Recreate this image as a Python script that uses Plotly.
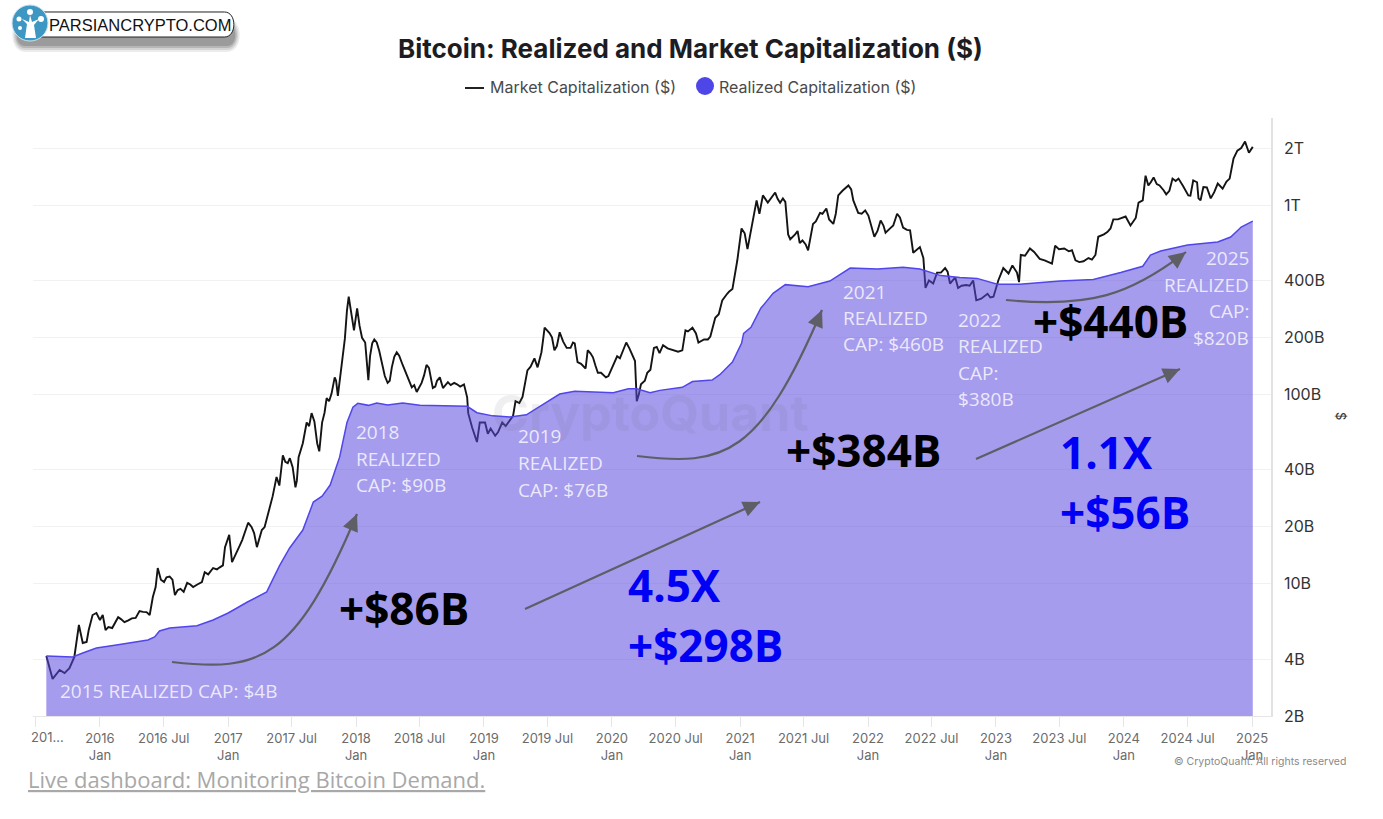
import math
import plotly.graph_objects as go

# Market capitalization ($B)
mktcap_dates = [
    "2015-08-01", "2015-08-19", "2015-09-08", "2015-09-22", "2015-10-06", "2015-10-20", "2015-11-02", "2015-11-13",
    "2015-11-24", "2015-11-30", "2015-12-11", "2015-12-22",
    "2016-01-01", "2016-01-09", "2016-01-17", "2016-02-05", "2016-02-22", "2016-03-11", "2016-04-01", "2016-04-23",
    "2016-05-13", "2016-05-22", "2016-05-31", "2016-06-08", "2016-06-14", "2016-06-23", "2016-07-09", "2016-07-26",
    "2016-08-02", "2016-08-10", "2016-08-27", "2016-09-06", "2016-09-23", "2016-10-18", "2016-10-26", "2016-11-19",
    "2016-12-17", "2016-12-23",
    "2017-01-04", "2017-01-12", "2017-01-26", "2017-02-10", "2017-02-27", "2017-03-09", "2017-03-24", "2017-04-07",
    "2017-04-15", "2017-04-30", "2017-05-19", "2017-06-06", "2017-06-20", "2017-07-04", "2017-07-12", "2017-07-21",
    "2017-08-02", "2017-08-13", "2017-08-27", "2017-09-12", "2017-09-26", "2017-10-09", "2017-10-23", "2017-11-01",
    "2017-11-10", "2017-11-21", "2017-11-30", "2017-12-06", "2017-12-11", "2017-12-26",
    "2018-01-04", "2018-01-18", "2018-01-27", "2018-02-05", "2018-02-16", "2018-03-01", "2018-03-14", "2018-04-01",
    "2018-04-13", "2018-04-27", "2018-05-14", "2018-06-09", "2018-06-23", "2018-07-07", "2018-07-21", "2018-08-08",
    "2018-08-28", "2018-09-06", "2018-09-20", "2018-10-16", "2018-11-05", "2018-11-14", "2018-11-17", "2018-11-28",
    "2018-12-12", "2018-12-20",
    "2019-01-04", "2019-02-02", "2019-02-22", "2019-03-16", "2019-03-25", "2019-04-01", "2019-04-21", "2019-05-05",
    "2019-05-25", "2019-06-03", "2019-06-14", "2019-06-23", "2019-07-07", "2019-07-21", "2019-08-05", "2019-08-25",
    "2019-09-17", "2019-09-25", "2019-10-18", "2019-10-24", "2019-11-08", "2019-11-22", "2019-12-15",
    "2020-01-02", "2020-01-16", "2020-02-11", "2020-03-01", "2020-03-12", "2020-03-24", "2020-04-11", "2020-04-30",
    "2020-05-26", "2020-06-24", "2020-07-20", "2020-07-29", "2020-08-18", "2020-09-04", "2020-10-08", "2020-10-22",
    "2020-11-11", "2020-12-10", "2020-12-24",
    "2021-01-05", "2021-01-22", "2021-02-06", "2021-02-17", "2021-02-25", "2021-03-07", "2021-03-21", "2021-04-11",
    "2021-04-25", "2021-05-03", "2021-05-18", "2021-06-07", "2021-06-20", "2021-07-14", "2021-07-28", "2021-08-17",
    "2021-09-04", "2021-09-24", "2021-10-08", "2021-11-06", "2021-11-20", "2021-12-04", "2021-12-24",
    "2022-01-08", "2022-01-19", "2022-02-06", "2022-02-20", "2022-03-05", "2022-03-25", "2022-04-11", "2022-05-01",
    "2022-05-10", "2022-05-29", "2022-06-08", "2022-06-14", "2022-07-06", "2022-07-17", "2022-08-09", "2022-08-23",
    "2022-09-07", "2022-09-15", "2022-10-28", "2022-11-06", "2022-12-08", "2022-12-25",
    "2023-01-08", "2023-01-22", "2023-02-06", "2023-02-17", "2023-03-02", "2023-03-08", "2023-03-13", "2023-04-08",
    "2023-05-06", "2023-06-10", "2023-06-19", "2023-08-06", "2023-08-16", "2023-09-08", "2023-10-12", "2023-10-20",
    "2023-11-24", "2023-12-02",
    "2024-01-06", "2024-01-20", "2024-02-04", "2024-02-12", "2024-02-24", "2024-03-03", "2024-03-11", "2024-03-26",
    "2024-04-24", "2024-05-19", "2024-06-05", "2024-07-03", "2024-07-17", "2024-08-01", "2024-08-15", "2024-09-05",
    "2024-09-25", "2024-10-09", "2024-10-29", "2024-11-09", "2024-11-20", "2024-12-12", "2024-12-23", "2025-01-03",
]
mktcap_values = [
    4.15, 3.14, 3.5, 3.37, 3.58, 4.1, 6.05, 4.86,
    4.92, 5.69, 6.83, 7.0,
    6.43, 6.83, 5.69, 5.83, 6.65, 6.26, 6.56, 7.17,
    7.08, 6.83, 8.5, 9.6, 12.1, 10.5, 10.8, 10.5,
    8.7, 9.26, 9.05, 10.1, 9.6, 10.2, 11.5, 12.1,
    12.5, 15.6,
    18.1, 13.0, 14.7, 17, 21, 19.9, 15.6, 19.2,
    19.9, 25.4, 36.6, 47.7, 43.3, 41.3, 32.3, 46.6,
    55.2, 71, 79.6, 55.2, 71, 95.5, 101, 123,
    98.3, 139, 197, 278, 328, 218,
    285, 199, 188, 119, 186, 188, 152, 115,
    139, 167, 143, 109, 103, 115, 143, 108,
    123, 108, 116, 113, 113, 96.5, 79.6, 67,
    56, 71,
    71, 60.5, 71, 73, 77, 92, 97, 134,
    155, 139, 167, 225, 211, 171, 213, 176,
    186, 148, 137, 171, 157, 130, 123,
    139, 159, 188, 157, 92, 113, 130, 176,
    182, 171, 171, 218, 225, 188, 202, 254,
    314, 360, 511,
    753, 585, 830, 1058, 900, 1125, 1030, 1165,
    1030, 1085, 700, 700, 630, 577, 795, 910,
    960, 795, 1125, 1270, 1058, 910, 937,
    805, 680, 830, 715, 753, 900, 760, 735,
    560, 600, 525, 365, 385, 440, 465, 385,
    415, 365, 400, 314, 340, 328,
    401, 465, 435, 480, 440, 392, 545, 590,
    520, 490, 610, 577, 511, 505, 545, 680,
    753, 840,
    870, 780, 855, 1030, 1058, 1430, 1270, 1400,
    1195, 1380, 1380, 1125, 1349, 1085, 1245, 1085,
    1300, 1220, 1380, 1760, 1940, 2165, 1890, 2030,
]

# smaller wiggles between the main turning points
wiggle_dates = [
    "2016-01-25", "2016-02-14", "2016-03-01", "2016-03-22", "2016-04-12", "2016-05-03", "2016-07-02", "2016-07-18",
    "2016-08-18", "2016-09-15", "2016-10-05", "2016-11-05", "2016-11-30", "2016-12-08",
    "2017-01-19", "2017-02-03", "2017-03-16", "2017-05-08", "2017-05-27", "2017-06-13", "2017-06-26", "2017-07-16",
    "2017-08-07", "2017-08-20", "2017-09-04", "2017-09-18", "2017-10-03", "2017-10-16", "2017-11-05",
    "2018-01-11", "2018-02-10", "2018-02-22", "2018-03-08", "2018-03-24", "2018-04-07", "2018-04-20", "2018-05-04",
    "2018-05-24", "2018-06-16", "2018-07-14", "2018-07-28", "2018-08-15", "2018-08-20", "2018-09-13", "2018-09-28",
    "2018-10-08", "2018-10-25",
    "2019-01-12", "2019-01-20", "2019-02-10", "2019-03-04", "2019-04-12", "2019-05-14", "2019-06-08", "2019-06-18",
    "2019-07-14", "2019-07-28", "2019-08-15", "2019-09-05", "2019-09-12", "2019-10-05", "2019-11-01", "2019-11-15",
    "2019-12-01", "2019-12-22",
    "2020-01-09", "2020-01-24", "2020-02-02", "2020-02-20", "2020-03-07", "2020-03-18", "2020-04-04", "2020-04-20",
    "2020-05-08", "2020-05-16", "2020-06-08", "2020-07-08", "2020-08-05", "2020-08-28", "2020-09-20", "2020-10-01",
    "2020-11-01", "2020-11-25", "2020-12-01", "2020-12-17",
    "2021-01-14", "2021-04-02", "2021-04-18", "2021-05-10", "2021-05-24", "2021-06-14", "2021-06-28", "2021-07-07",
    "2021-08-05", "2021-08-24", "2021-09-12", "2021-10-01", "2021-10-20", "2021-11-14", "2021-12-14",
    "2022-01-02", "2022-01-28", "2022-02-14", "2022-03-14", "2022-04-02", "2022-04-22", "2022-06-01", "2022-06-24",
    "2022-07-28", "2022-08-16", "2022-09-25", "2022-10-08", "2022-10-18", "2022-11-20", "2022-12-16",
    "2023-03-25", "2023-04-20", "2023-05-20", "2023-06-30", "2023-07-15", "2023-07-28", "2023-08-27", "2023-09-22",
    "2023-10-02", "2023-11-05", "2023-11-15", "2023-12-15", "2023-12-25",
    "2024-03-18", "2024-04-04", "2024-04-12", "2024-05-01", "2024-05-10", "2024-05-28", "2024-06-18", "2024-07-09",
    "2024-07-28", "2024-08-07", "2024-08-25", "2024-09-15", "2024-10-20", "2024-12-01", "2024-12-17",
]
wiggle_values = [
    5.9, 6.3, 6.5, 6.4, 6.6, 7.1, 10.2, 10.9,
    9.4, 9.9, 9.9, 11.2, 11.9, 12.2,
    13.8, 15.9, 18.5, 29, 33, 44, 46, 35,
    62, 68, 72, 50, 80, 92, 118,
    230, 160, 195, 170, 125, 118, 158, 160,
    128, 112, 126, 138, 110, 118, 112, 112,
    115, 110,
    62, 66, 63, 68, 90, 140, 150, 190,
    200, 180, 190, 176, 188, 145, 165, 142,
    130, 125,
    148, 155, 172, 175, 150, 100, 118, 135,
    178, 165, 175, 168, 215, 210, 195, 195,
    265, 340, 350, 420,
    710, 1100, 1080, 1040, 660, 730, 650, 620,
    820, 900, 840, 900, 1190, 1210, 900,
    880, 730, 780, 780, 860, 740, 580, 400,
    440, 445, 375, 378, 375, 320, 325,
    540, 565, 510, 585, 590, 570, 500, 525,
    515, 700, 720, 840, 850,
    1320, 1290, 1270, 1140, 1190, 1340, 1260, 1120,
    1320, 1060, 1240, 1170, 1330, 2000, 2040,
]

# Realized capitalization ($B)
realized_dates = [
    "2015-08-01", "2015-10-15", "2015-11-13", "2015-12-22", "2016-02-17", "2016-05-17", "2016-06-05", "2016-06-19",
    "2016-07-18", "2016-10-04", "2016-11-19", "2017-01-01", "2017-02-25", "2017-04-21", "2017-05-08", "2017-05-28",
    "2017-06-25", "2017-08-02", "2017-09-01", "2017-09-26", "2017-10-19", "2017-11-15", "2017-12-06", "2017-12-23",
    "2018-01-06", "2018-02-05", "2018-03-01", "2018-04-01", "2018-05-14", "2018-07-02", "2018-11-14", "2018-12-12",
    "2019-01-26", "2019-03-16", "2019-05-02", "2019-06-28", "2019-08-05", "2019-09-17", "2019-11-29", "2020-01-05",
    "2020-02-17", "2020-03-12", "2020-04-19", "2020-05-17", "2020-07-20", "2020-08-18", "2020-10-13", "2020-11-04",
    "2020-12-10", "2021-01-05", "2021-01-11", "2021-02-01", "2021-03-01", "2021-04-05", "2021-05-10", "2021-07-14",
    "2021-09-14", "2021-11-11", "2022-01-28", "2022-04-11", "2022-05-29", "2022-07-28", "2022-09-20", "2022-11-08",
    "2023-01-05", "2023-03-10", "2023-07-03", "2023-10-06", "2023-12-23", "2024-02-24", "2024-03-17", "2024-04-15",
    "2024-07-01", "2024-09-25", "2024-11-01", "2024-12-01", "2025-01-03",
]
realized_values = [
    4.15, 4.1, 4.3, 4.57, 4.74, 5.04, 5.23, 5.63,
    5.83, 6.0, 6.43, 7.0, 8.0, 9.05, 10.5, 12.5,
    15.4, 19.2, 27.0, 29, 33.2, 46.6, 71, 85.5,
    89.7, 87.5, 90, 88, 90, 87.5, 86.5, 80,
    77, 76, 78, 90.6, 100.4, 104, 103, 102,
    107, 107, 102, 105, 109, 117, 119, 127,
    148, 186, 210, 226, 285, 342, 380, 370,
    397, 465, 460, 470, 460, 424, 415, 410,
    382, 382, 397, 405, 440, 475, 545, 572,
    615, 638, 678, 766, 822,
]

x_tick_dates = ["2015-07-01", "2016-01-01", "2016-07-01", "2017-01-01", "2017-07-01", "2018-01-01", "2018-07-01",
                "2019-01-01", "2019-07-01", "2020-01-01", "2020-07-01", "2021-01-01", "2021-07-01", "2022-01-01",
                "2022-07-01", "2023-01-01", "2023-07-01", "2024-01-01", "2024-07-01", "2025-01-01"]
x_tick_labels = ["", "2016<br>Jan", "2016 Jul", "2017<br>Jan", "2017 Jul", "2018<br>Jan", "2018 Jul",
                 "2019<br>Jan", "2019 Jul", "2020<br>Jan", "2020 Jul", "2021<br>Jan", "2021 Jul", "2022<br>Jan",
                 "2022 Jul", "2023<br>Jan", "2023 Jul", "2024<br>Jan", "2024 Jul", "2025<br>Jan"]
y_tick_values = [2, 4, 10, 20, 40, 100, 200, 400, 1000, 2000]
y_tick_labels = ["2B", "4B", "10B", "20B", "40B", "100B", "200B", "400B", "1T", "2T"]

# Plot area in page pixels, overlay items are placed with these
LEFT, RIGHT, TOP, BOTTOM = 33, 1271, 118, 716
ARROW = "#5e5e66"
NOTE = "rgba(255,255,255,0.78)"


def fx(x):
    return (x - LEFT) / (RIGHT - LEFT)


def fy(y):
    return (BOTTOM - y) / (BOTTOM - TOP)


fig = go.Figure()

mktcap = sorted(zip(mktcap_dates + wiggle_dates, mktcap_values + wiggle_values))

# line goes first, the translucent area sits over it
fig.add_trace(go.Scatter(x=[d for d, _ in mktcap], y=[v for _, v in mktcap], mode="lines",
                         name="Market Capitalization ($)", line=dict(color="#141414", width=1.9), showlegend=False))
fig.add_trace(go.Scatter(x=realized_dates, y=realized_values, mode="lines", name="Realized Capitalization ($)",
                         line=dict(color="#5046ea", width=1.5), fill="tozeroy",
                         fillcolor="rgba(90,72,222,0.54)", showlegend=False))


def text(x, y, s, size, color, family="Open Sans", anchor="left", **kw):
    # annotations carry about 2px of padding on their anchored side
    nudge = {"left": -2, "right": 2, "center": 0}[anchor]
    fig.add_annotation(xref="paper", yref="paper", x=fx(x + nudge), y=fy(y), text=s, showarrow=False, xanchor=anchor,
                       yanchor="middle", align=anchor, font=dict(size=size, color=color, family=family), **kw)


def shape_path(points, **kw):
    d = "M" + " L".join(f"{fx(a):.5f},{fy(b):.5f}" for a, b in points) + " Z"
    fig.add_shape(type="path", xref="paper", yref="paper", path=d, **kw)


def arrow_head(tip, tail, length=17, half=8):
    ang = math.atan2(tip[1] - tail[1], tip[0] - tail[0])
    bx, by = tip[0] - length * math.cos(ang), tip[1] - length * math.sin(ang)
    nx, ny = -math.sin(ang) * half, math.cos(ang) * half
    shape_path([tip, (bx + nx, by + ny), (bx - nx, by - ny)], fillcolor=ARROW, line=dict(width=0))


def curve_arrow(p0, c1, c2, p1):
    d = (f"M{fx(p0[0]):.5f},{fy(p0[1]):.5f} C{fx(c1[0]):.5f},{fy(c1[1]):.5f} "
         f"{fx(c2[0]):.5f},{fy(c2[1]):.5f} {fx(p1[0]):.5f},{fy(p1[1]):.5f}")
    fig.add_shape(type="path", xref="paper", yref="paper", path=d, line=dict(color=ARROW, width=2.2))
    arrow_head(p1, c2)


def straight_arrow(p0, p1):
    fig.add_shape(type="line", xref="paper", yref="paper", x0=fx(p0[0]), y0=fy(p0[1]), x1=fx(p1[0]), y1=fy(p1[1]),
                  line=dict(color=ARROW, width=2.2))
    arrow_head(p1, p0)


curve_arrow((172, 662), (260, 672), (295, 661), (357, 514))
curve_arrow((637, 456), (725, 467), (760, 455), (822, 310))
curve_arrow((1006, 300), (1090, 308), (1130, 295), (1186, 252))
straight_arrow((525, 609), (760, 502))
straight_arrow((976, 459), (1180, 369))

# watermark
text(650, 413, "<b>CryptoQuant</b>", 50, "rgba(110,110,125,0.11)", family="Inter", anchor="center")

# white notes inside the area
text(60, 691, "2015 REALIZED CAP: $4B", 19, NOTE)
for y, s in zip([432, 459, 485], ["2018", "REALIZED", "CAP: $90B"]):
    text(356, y, s, 19, NOTE)
for y, s in zip([436, 463, 490], ["2019", "REALIZED", "CAP: $76B"]):
    text(518, y, s, 19, NOTE)
for y, s in zip([292, 318, 344], ["2021", "REALIZED", "CAP: $460B"]):
    text(843, y, s, 19, NOTE)
for y, s in zip([320, 346, 373, 399], ["2022", "REALIZED", "CAP:", "$380B"]):
    text(958, y, s, 19, NOTE)
for y, s in zip([258, 285, 311, 338], ["2025", "REALIZED", "CAP:", "$820B"]):
    text(1249, y, s, 19, NOTE, anchor="right")

# big callouts
text(339, 608, "<b>+$86B</b>", 44, "#000000")
text(786, 450, "<b>+$384B</b>", 44, "#000000")
text(1033, 321, "<b>+$440B</b>", 44, "#000000")
text(628, 585, "<b>4.5X</b>", 44, "#0000f5")
text(628, 645, "<b>+$298B</b>", 44, "#0000f5")
text(1060, 452, "<b>1.1X</b>", 44, "#0000f5")
text(1060, 512, "<b>+$56B</b>", 44, "#0000f5")

# title and hand-placed legend
text(690, 48, "<b>Bitcoin: Realized and Market Capitalization ($)</b>", 26, "#1c1c22", family="Inter", anchor="center")
fig.add_shape(type="line", xref="paper", yref="paper", x0=fx(465), x1=fx(484), y0=fy(88), y1=fy(88),
              line=dict(color="#222222", width=2))
text(490, 87, "Market Capitalization ($)", 16, "#4a4a4a", family="Inter")
fig.add_shape(type="circle", xref="paper", yref="paper", x0=fx(696), x1=fx(714), y0=fy(77), y1=fy(95),
              fillcolor="#4f46e8", line=dict(width=0))
text(719, 87, "Realized Capitalization ($)", 16, "#4a4a4a", family="Inter")

# odds and ends around the axes
text(47, 737, "201...", 13, "#6b6b6b", family="Inter", anchor="center")
text(1341, 416, "$", 13, "#333333", family="Inter", anchor="center", textangle=90)
text(1346, 761, "© CryptoQuant. All rights reserved", 10.5, "#8a8a8a", family="Inter", anchor="right")
text(28, 779, "<u>Live dashboard: Monitoring Bitcoin Demand.</u>", 22, "#a8a8a8")


# logo badge
def pill(x0, y0, x1, y1, **kw):
    r = (y1 - y0) / 2
    d = (f"M{fx(x0 + r):.5f},{fy(y0):.5f} L{fx(x1 - r):.5f},{fy(y0):.5f} "
         f"C{fx(x1):.5f},{fy(y0):.5f} {fx(x1):.5f},{fy(y1):.5f} {fx(x1 - r):.5f},{fy(y1):.5f} "
         f"L{fx(x0 + r):.5f},{fy(y1):.5f} "
         f"C{fx(x0):.5f},{fy(y1):.5f} {fx(x0):.5f},{fy(y0):.5f} {fx(x0 + r):.5f},{fy(y0):.5f} Z")
    fig.add_shape(type="path", xref="paper", yref="paper", path=d, **kw)


for grow, alpha in [(6, 0.10), (4, 0.14), (2, 0.2), (0, 0.25)]:
    pill(14 - grow, 24 - grow, 238 + grow, 46 + grow, fillcolor=f"rgba(70,70,70,{alpha})", line=dict(width=0))
pill(30, 12, 237, 37, fillcolor="#ffffff", line=dict(color="#222222", width=1))
fig.add_shape(type="circle", xref="paper", yref="paper", x0=fx(12), x1=fx(48), y0=fy(5), y1=fy(41),
              fillcolor="#3d97c2", line=dict(color="#cfe5ef", width=1))
shape_path([(25, 38), (27, 24), (22, 19), (29, 22), (30, 15), (32, 22), (39, 19), (34, 25), (36, 38)],
           fillcolor="#ffffff", line=dict(width=0))
for cx, cy, r in [(30, 12, 3), (19, 19, 2.5), (41, 19, 3), (20, 28, 2)]:
    fig.add_shape(type="circle", xref="paper", yref="paper", x0=fx(cx - r), x1=fx(cx + r), y0=fy(cy - r), y1=fy(cy + r),
                  fillcolor="#ffffff", line=dict(width=0))
text(49, 25, "PARSIANCRYPTO.COM", 16.5, "#111111", family="Liberation Sans")

fig.update_layout(
    width=1383, height=819,
    margin=dict(l=LEFT, r=1383 - RIGHT, t=TOP, b=819 - BOTTOM),
    plot_bgcolor="#ffffff", paper_bgcolor="#ffffff",
    showlegend=False,
    font=dict(family="Inter"),
    xaxis=dict(type="date", range=["2015-06-24", "2025-02-24"], tickmode="array",
               tickvals=x_tick_dates, ticktext=x_tick_labels, tickangle=0,
               showgrid=False, zeroline=False, showline=True, linecolor="#e6e6e6",
               ticks="outside", ticklen=10, tickcolor="#e6e6e6", tickfont=dict(size=13, color="#6b6b6b")),
    yaxis=dict(type="log", range=[math.log10(2), math.log10(2) + (BOTTOM - TOP) / 189.3], side="right",
               tickmode="array", tickvals=y_tick_values, ticktext=y_tick_labels,
               showgrid=True, gridcolor="#f1f1f1", zeroline=False, showline=True, linecolor="#e2e2e2", linewidth=1.5,
               ticks="outside", ticklen=8, tickcolor="rgba(0,0,0,0)", tickfont=dict(size=16, color="#333333")),
)

fig.write_html("out.html", post_script="document.body.style.margin='0';", config=dict(displayModeBar=False))
